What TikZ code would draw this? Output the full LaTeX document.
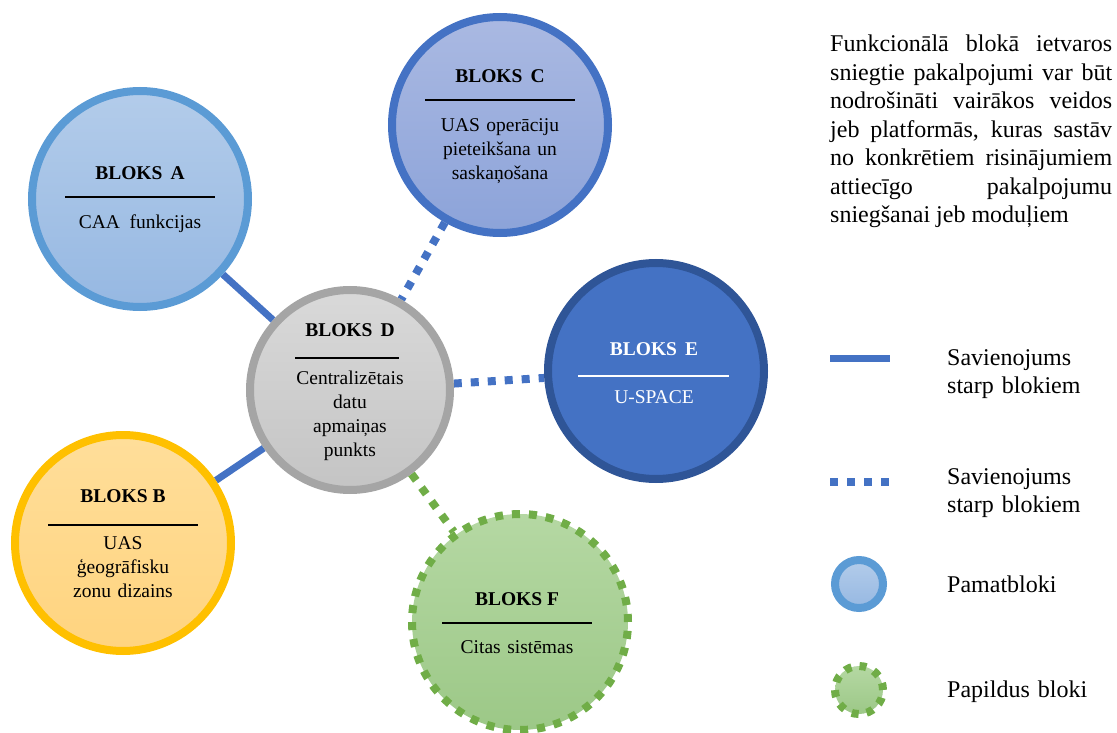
\documentclass[tikz,border=0pt]{standalone}
\usepackage{fontspec}
\setmainfont{Liberation Serif}
\usetikzlibrary{calc,backgrounds}
\definecolor{conblue}{HTML}{4472C4}
\definecolor{aborder}{HTML}{5B9BD5}
\definecolor{atop}{HTML}{B3CCEA}
\definecolor{abot}{HTML}{96B8E2}
\definecolor{cborder}{HTML}{4472C4}
\definecolor{ctop}{HTML}{AAB9E2}
\definecolor{cbot}{HTML}{8CA3D9}
\definecolor{dborder}{HTML}{A5A5A5}
\definecolor{dtop}{HTML}{D9D9D9}
\definecolor{dbot}{HTML}{C4C4C4}
\definecolor{eborder}{HTML}{2F5597}
\definecolor{efill}{HTML}{4472C4}
\definecolor{bborder}{HTML}{FFC000}
\definecolor{btop}{HTML}{FFDE9A}
\definecolor{bbot}{HTML}{FFD47F}
\definecolor{fborder}{HTML}{70AD47}
\definecolor{ftop}{HTML}{B5D8A3}
\definecolor{fbot}{HTML}{9CC887}
\tikzset{
  blk/.style={circle, inner sep=0pt, minimum size=216pt, line width=8pt},
  blktitle/.style={font=\fontsize{19.5}{23.5}\selectfont\bfseries, anchor=base, inner sep=0pt},
  blksub/.style={font=\fontsize{19.5}{24}\selectfont, anchor=base, inner sep=0pt, text width=160pt, align=center},
  rulel/.style={line width=1.6pt},
  solidcon/.style={line width=7pt, draw=conblue},
  dotcon/.style={line width=8pt, draw=conblue, dash pattern=on 8pt off 9pt},
  greencon/.style={line width=8pt, draw=fborder, dash pattern=on 8pt off 9pt},
  legtxt/.style={font=\fontsize{24}{28}\selectfont, anchor=base west, inner sep=0pt, text width=170pt, align=left},
}
\begin{document}
\begin{tikzpicture}[x=1pt,y=-1pt]
\useasboundingbox (0,0) rectangle (1117,733);

% blocks
\node[blk, draw=aborder, top color=atop, bottom color=abot] (A) at (140,199) {};
\node[blk, draw=bborder, top color=btop, bottom color=bbot] (B) at (123,543) {};
\node[blk, draw=cborder, top color=ctop, bottom color=cbot] (C) at (500,125) {};
\node[blk, minimum size=200pt, draw=dborder, top color=dtop, bottom color=dbot] (D) at (350,390) {};
\node[blk, draw=eborder, fill=efill] (E) at (656,371) {};
\node[blk, draw=fborder, dash pattern=on 8pt off 8.97pt, top color=ftop, bottom color=fbot] (F) at (520,622) {};

% connectors
\begin{scope}[on background layer]
\draw[solidcon] (A) -- (D);
\draw[solidcon] (B) -- (D);
\draw[dotcon] (C) -- (D);
\draw[dotcon] (D) -- (E);
\draw[greencon] (D) -- (F);
\end{scope}

% texts A
\node[blktitle] (At) at ($(A)+(0,-19)$) {BLOKS\, A};
\draw[rulel] ($(A)+(-75,-2)$) -- ($(A)+(75,-2)$);
\node[blksub] (As) at ($(A)+(0,29)$) {CAA\, funkcijas};
% B
\node[blktitle] (Bt) at ($(B)+(0,-41)$) {BLOKS B};
\draw[rulel] ($(B)+(-75,-18)$) -- ($(B)+(75,-18)$);
\node[blksub] (Bs) at ($(B)+(0,6)$) {UAS\\ ģeogrāfisku\\ zonu dizains};
% C
\node[blktitle] (Ct) at ($(C)+(0,-42)$) {BLOKS\, C};
\draw[rulel] ($(C)+(-75,-25)$) -- ($(C)+(75,-25)$);
\node[blksub] (Cs) at ($(C)+(0,7)$) {UAS operāciju\\ pieteikšana un\\ saskaņošana};
% D
\node[blktitle] (Dt) at ($(D)+(0,-54)$) {BLOKS\, D};
\draw[rulel] ($(D)+(-55,-32)$) -- ($(D)+(49,-32)$);
\node[blksub] (Ds) at ($(D)+(0,-6)$) {Centralizētais\\ datu\\ apmaiņas\\ punkts};
% E
\node[blktitle, text=white] (Et) at ($(E)+(-2,-16)$) {BLOKS\, E};
\draw[rulel, white] ($(E)+(-78,5)$) -- ($(E)+(73,5)$);
\node[blksub, text=white] (Es) at ($(E)+(-2,32)$) {U-SPACE};
% F
\node[blktitle] (Ft) at ($(F)+(-3,-17)$) {BLOKS F};
\draw[rulel] ($(F)+(-78,1)$) -- ($(F)+(72,1)$);
\node[blksub] (Fs) at ($(F)+(-3,31)$) {Citas sistēmas};

% paragraph
\node[anchor=base west, inner sep=0pt, text width=282pt, font=\fontsize{24}{28.5}\selectfont] (P) at (830,52) {%
\spaceskip=0pt \xspaceskip=0pt
\makebox[282pt][s]{Funkcionālā blokā ietvaros}\newline
\makebox[282pt][s]{sniegtie pakalpojumi var būt}\newline
\makebox[282pt][s]{nodrošināti vairākos veidos}\newline
\makebox[282pt][s]{jeb platformās, kuras sastāv}\newline
\makebox[282pt][s]{no konkrētiem risinājumiem}\newline
\makebox[282pt][s]{attiecīgo pakalpojumu}\newline
sniegšanai jeb moduļiem};

% legend
\coordinate (L1a) at (830,358);
\coordinate (L1b) at (890,358);
\draw[solidcon] (L1a) -- (L1b);
\node[legtxt] (L1t) at (947,365) {Savienojums\\ starp blokiem};
\coordinate (L2a) at (830,482);
\coordinate (L2b) at (891,482);
\draw[dotcon] (L2a) -- (L2b);
\node[legtxt] (L2t) at (947,484) {Savienojums\\ starp blokiem};
\node[circle, inner sep=0pt, minimum size=48pt, line width=8pt, draw=aborder, top color=atop, bottom color=abot] (L3) at (859,584) {};
\node[legtxt] (L3t) at (947,592) {Pamatbloki};
\node[circle, inner sep=0pt, minimum size=48pt, line width=8pt, draw=fborder, dash pattern=on 7pt off 8.08pt, top color=ftop, bottom color=fbot] (L4) at (859,690) {};
\node[legtxt] (L4t) at (947,697) {Papildus bloki};
\end{tikzpicture}
\end{document}
